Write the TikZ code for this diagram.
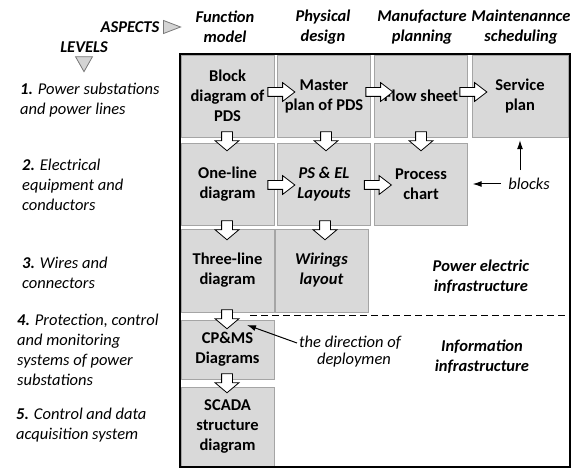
\documentclass[tikz,border=0pt]{standalone}
\usepackage{fontspec}
\setmainfont{Carlito}
\usetikzlibrary{shapes.arrows,arrows.meta}

\definecolor{boxfill}{RGB}{217,217,217}
\definecolor{boxline}{RGB}{165,165,165}
\definecolor{markfill}{RGB}{212,212,212}
\definecolor{markline}{RGB}{120,120,120}

\begin{document}
\begin{tikzpicture}[x=1pt, y=-1pt,
		stage/.style = {draw=boxline, fill=boxfill, inner sep=0pt, align=center, minimum width=93pt, minimum height=82pt, font=\fontsize{16.5}{20}\selectfont\bfseries},
		stageit/.style = {stage, font=\fontsize{16.5}{20}\selectfont\bfseries\itshape},
		rarrow/.style = {single arrow, draw, fill=white, line width=0.8pt, inner sep=0pt, text height=4pt, text depth=4pt, minimum height=27pt, single arrow head extend=5pt, single arrow tip angle=75},
		darrow/.style = {single arrow, rotate=-90, draw, fill=white, line width=0.8pt, inner sep=0pt, text height=5pt, text depth=5pt, minimum height=19pt, single arrow head extend=6.5pt, single arrow tip angle=100},
		level/.style = {anchor=west, align=left, inner sep=0pt, font=\fontsize{16.5}{20}\selectfont\itshape},
		aspect/.style = {align=center, inner sep=0pt, font=\fontsize{16.5}{20}\selectfont\bfseries\itshape},
		note/.style = {inner sep=0pt, font=\fontsize{16.5}{20}\selectfont\itshape},
		marker/.style = {draw=markline, fill=markfill, line width=0.8pt},
		pointer/.style = {-{Latex[length=9pt,width=6pt]}, line width=1pt},
		divider/.style = {dash pattern=on 7pt off 4pt, line width=0.9pt}
	]
	\useasboundingbox (0,0) rectangle (578,473);

	% headers
	\node[aspect] (asp) at (130,27) {ASPECTS};
	\draw[marker] ([xshift=4pt]asp.east) ++(0,-6.5) -- ++(17,6.5) -- ++(-17,6.5) -- cycle;
	\node[aspect] (lev) at (84,47) {LEVELS};
	\draw[marker] ([yshift=-4pt]lev.south) ++(-8.5,0) -- ++(17,0) -- ++(-8.5,15) -- cycle;

	\node[aspect] (hfun) at (225,27) {Function\\model};
	\node[aspect] (hphy) at (323,27) {Physical\\design};
	\node[aspect] (hman) at (422,27) {Manufacture\\planning};
	\node[aspect] (hmnt) at (521,27) {Maintenannce\\scheduling};

	\node[level] (l1) at (20,100.5) {\textbf{1.} Power substations\\and power lines};
	\node[level] (l2) at (22,185) {\textbf{2.} Electrical\\equipment and\\conductors};
	\node[level] (l3) at (22,273) {\textbf{3.} Wires and\\connectors};
	\node[level] (l4) at (17,350) {\textbf{4.} Protection, control\\and monitoring\\systems of power\\substations};
	\node[level] (l5) at (16,425) {\textbf{5.} Control and data\\acquisition system};

	% blocks
	\node[stage] (b11) at (227.5,96) {Block\\diagram of\\PDS};
	\node[stage] (b12) at (324,96) {Master\\plan of PDS};
	\node[stage] (b13) at (421,96) {Flow sheet};
	\node[stage, minimum width=96pt] (b14) at (520,96) {Service\\plan};
	\node[stage] (b21) at (227.5,184) {One-line\\diagram};
	\node[stageit] (b22) at (324,184) {PS \& EL\\Layouts};
	\node[stage] (b23) at (421,184) {Process\\chart};
	\node[stage, minimum height=83pt] (b31) at (227.5,270.5) {Three-line\\diagram};
	\node[stageit, minimum height=83pt] (b32) at (321.5,270.5) {Wirings\\layout};
	\node[stage, minimum height=59pt] (b41) at (227.5,349.5) {CP\&MS\\Diagrams};
	\node[stage, minimum height=79pt] (b51) at (227.5,426.5) {SCADA\\structure\\diagram};

	\node[draw, line width=1.3pt, inner sep=0pt, minimum width=390pt, minimum height=413pt] (frame) at (375,260.5) {};

	% block arrows
	\node[rarrow] (r1112) at (278.5,92) {};
	\node[rarrow] (r1213) at (376.5,92) {};
	\node[rarrow] (r1314) at (470.5,92) {};
	\node[rarrow] (r2122) at (278.5,185) {};
	\node[rarrow] (r2223) at (375,185) {};
	\node[darrow] (d1121) at (227,139) {};
	\node[darrow] (d1222) at (326,139) {};
	\node[darrow] (d1323) at (421,139) {};
	\node[darrow] (d2131) at (227,228) {};
	\node[darrow] (d2232) at (325,228) {};
	\node[darrow] (d3141) at (227,317) {};
	\node[darrow] (d4151) at (227,381) {};

	% split and notes
	\coordinate (split) at (250,315.5);
	\draw[divider] (split) -- (split -| frame.east);

	\node[note] (blk) at (529,184) {blocks};
	\draw[pointer] ([xshift=-7pt]blk.west) -- ([xshift=5pt]b23.east);
	\draw[pointer, shorten <=8pt] (b14.south |- blk.north) -- ([yshift=-3pt]b14.south);

	\node[note] (dir1) at (350,343) {the direction of};
	\node[note] (dir2) at (354,360) {deploymen};
	\coordinate (dirtip) at (247,325);
	\draw[pointer] ([xshift=-2pt]dir1.west) -- (dirtip);

	\node[aspect] (pe) at (481,277) {Power electric\\infrastructure};
	\node[aspect] (ii) at (482,357) {Information\\infrastructure};
\end{tikzpicture}
\end{document}
